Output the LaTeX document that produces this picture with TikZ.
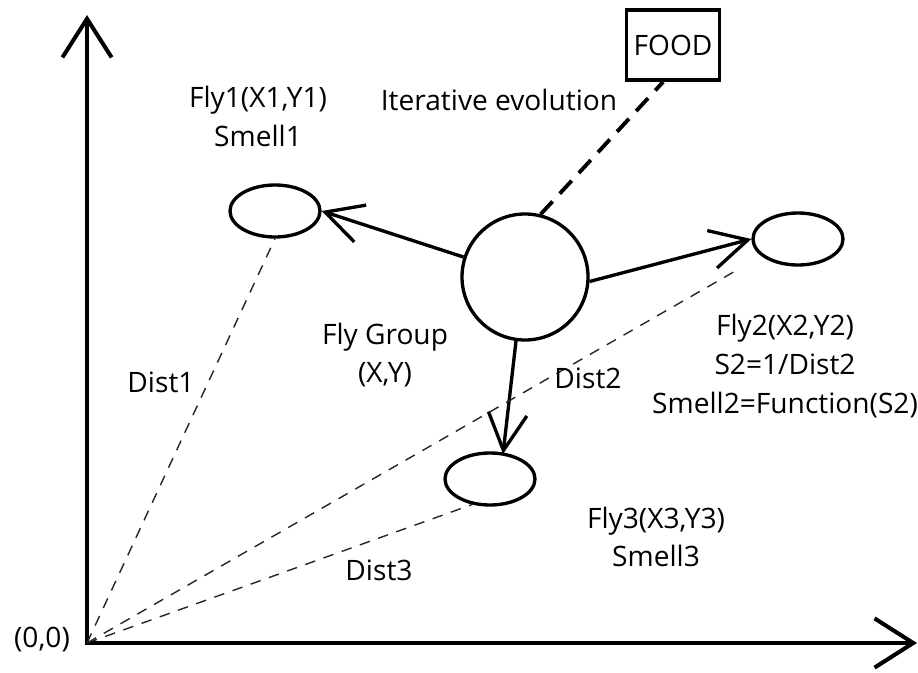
\documentclass[tikz,border=0pt]{standalone}
\usepackage{fontspec}
\setmainfont{Open Sans}
\usetikzlibrary{arrows.meta,shapes.geometric}

\begin{document}
\begin{tikzpicture}[
    axis/.style={line width=2.3pt, {Straight Barb[length=22pt,width=28pt]}-{Straight Barb[length=22pt,width=28pt]}},
    fly/.style={draw, ellipse, line width=1.9pt, minimum width=1.8cm, minimum height=1.04cm},
    move/.style={line width=1.9pt, -{Straight Barb[length=21pt,width=22pt]}},
    dist/.style={draw=black!85, line width=0.8pt, dash pattern=on 6pt off 5pt},
    lbl/.style={font=\fontsize{16}{22}\selectfont, align=center}
  ]
    \useasboundingbox (0,0) rectangle (18.36,13.44);
    % axes
    \coordinate (o) at (1.74,0.58);
    \coordinate (ytip) at (1.74,13.14);
    \coordinate (xtip) at (18.34,0.58);
    \draw[axis] (ytip) -- (o) -- (xtip);
    \node[lbl] (lorig) at (0.84,0.64) {(0,0)};

    % flies and food
    \node[draw, circle, line width=1.9pt, minimum size=2.52cm] (grp) at (10.5,7.9) {};
    \node[fly] (fly1) at (5.5,9.22) {};
    \node[fly] (fly2) at (15.96,8.66) {};
    \node[fly] (fly3) at (9.8,3.86) {};
    \node[draw, line width=2.2pt, minimum width=1.86cm, minimum height=1.4cm, lbl] (food) at (13.46,12.54) {FOOD};
    \coordinate (f3top) at (10.06,4.36);

    \draw[move] (grp.262) -- (f3top);
    \draw[move] (grp) -- (fly1.east);
    \draw[move] (grp.-4) -- (fly2.west);
    \draw[line width=2.2pt, dash pattern=on 10pt off 6pt] (grp.76) -- (food.255);

    \draw[dist] (o) -- (fly1.south);
    \draw[dist, shorten >=0.5cm] (o) -- (fly2.205);
    \draw[dist] (o) -- (fly3.235);

    % labels
    \node[lbl] (l1) at (5.16,11.11) {Fly1(X1,Y1)\\Smell1};
    \node[lbl] (evo) at (9.98,11.44) {Iterative evolution};
    \node[lbl] (l2) at (15.7,6.12) {Fly2(X2,Y2)\\S2=1/Dist2\\Smell2=Function(S2)};
    \node[lbl] (lg) at (7.7,6.34) {Fly Group\\(X,Y)};
    \node[lbl] (l3) at (13.12,2.7) {Fly3(X3,Y3)\\Smell3};
    \node[lbl] (d1) at (3.22,5.8) {Dist1};
    \node[lbl] (d2) at (11.76,5.88) {Dist2};
    \node[lbl] (d3) at (7.58,2.04) {Dist3};
  \end{tikzpicture}
\end{document}
